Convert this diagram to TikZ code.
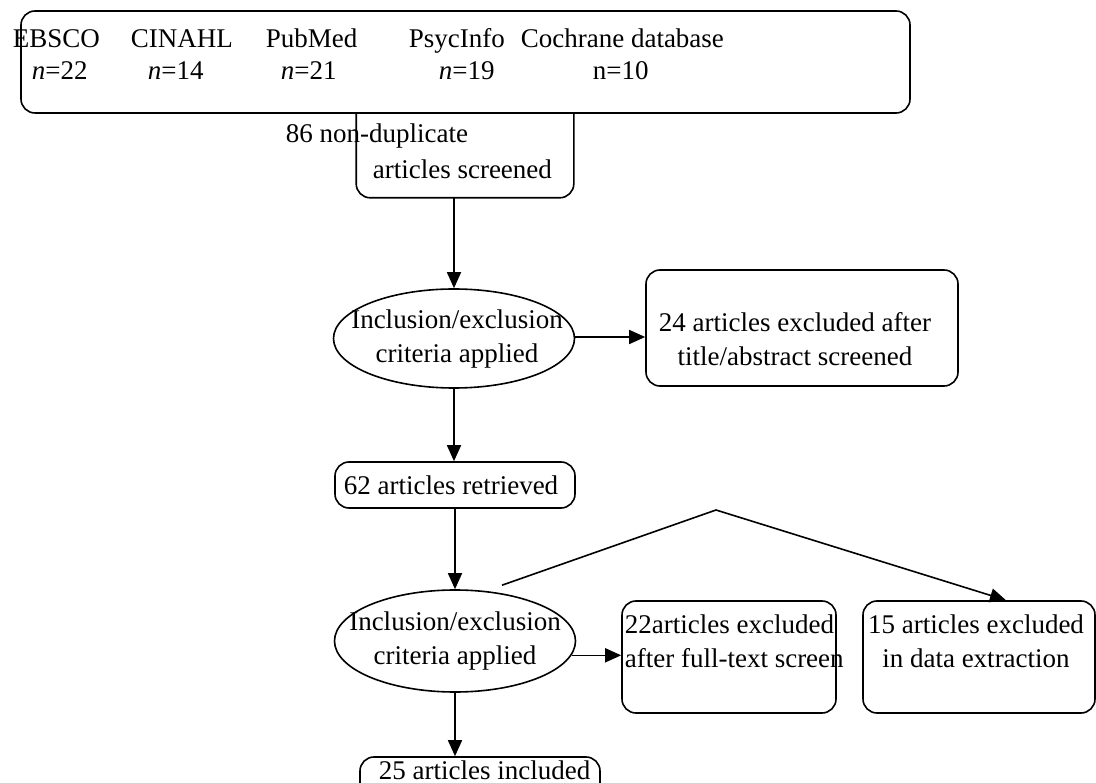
\documentclass[tikz,border=0pt]{standalone}
\usepackage{fontspec}
\setmainfont{Liberation Serif}
\usetikzlibrary{arrows.meta,shapes.geometric,calc}
\begin{document}
\begin{tikzpicture}[x=1pt,y=-1pt,line width=1.6pt,
  rbox/.style={draw,rounded corners=14pt,inner sep=0pt},
  ell/.style={draw,ellipse,inner sep=0pt,minimum width=241pt},
  txt/.style={font=\fontsize{27}{34}\selectfont,inner sep=0pt,align=center},
  lt/.style={txt,anchor=base west},
  arr/.style={-{Triangle[length=16pt,width=14pt]}}]
\useasboundingbox (0,0) rectangle (1096,783);
% top box
\node[rbox,minimum width=889pt,minimum height=102pt] (db) at (465.5,62) {};
\node[lt] (t1) at (12,48) {EBSCO};
\node[lt] (n1) at (31,80) {\textit{n}=22};
\node[lt] (t2) at (130,48) {CINAHL};
\node[lt] (n2) at (147,80) {\textit{n}=14};
\node[lt] (t3) at (265,48) {PubMed};
\node[lt] (n3) at (280,80) {\textit{n}=21};
\node[lt] (t4) at (408,48) {PsycInfo};
\node[lt] (n4) at (438,80) {\textit{n}=19};
\node[lt] (t5) at (520,48) {Cochrane database};
\node[lt] (n5) at (592,80) {n=10};
% box 2
\node[minimum width=216pt,minimum height=84pt,inner sep=0pt] (scr) at (465,155) {};
\draw[rounded corners=14pt] (scr.north west) -- (scr.south west) -- (scr.south east) -- (scr.north east);
\node[lt] (s1) at (285,143) {86 non-duplicate};
\node[lt] (s2) at (372,179) {articles screened};
% ellipse 1
\node[ell,minimum height=99pt] (e1) at (454,338.5) {};
\node[txt] (e1t) at (457,339) {Inclusion/exclusion\\criteria applied};
\node[rbox,minimum width=312pt,minimum height=116pt] (x1) at (802,328) {};
\node[txt] (x1t) at (795,339) {24 articles excluded after\\title/abstract screened};
% retrieved
\node[rbox,minimum width=240pt,minimum height=46pt] (ret) at (455,485) {};
\node[txt] (rett) at (451,485) {62 articles retrieved};
% ellipse 2
\node[ell,minimum height=102pt] (e2) at (455,641) {};
\node[txt] (e2t) at (455,641) {Inclusion/exclusion\\criteria applied};
\node[rbox,minimum width=214pt,minimum height=112pt] (x2) at (729,657) {};
\node[txt,align=left,anchor=west] (x2t) at (624,641) {22articles excluded\\after full-text screen};
\node[rbox,minimum width=232pt,minimum height=112pt] (x3) at (979,657) {};
\node[txt] (x3t) at (976,641) {15 articles excluded\\in data extraction};
% included
\node[rbox,minimum width=240pt,minimum height=60pt] (inc) at (480,787) {};
\node[lt] (inct) at (378,779) {25 articles included};
% connectors
\draw[arr] (e1.north |- scr.south) -- (e1.north);
\draw[arr] (e1.east |- 0,337) -- (x1.west |- 0,337);
\draw[arr] (e1.south) -- (e1.south |- ret.north);
\draw[arr] (ret.south -| e2.north) -- (e2.north);
\draw[arr] (e2.-7) -- (e2.-7 -| x2.west);
\draw[arr] (e2.south) -- (e2.south |- inc.north);
\coordinate (vs) at ($(e2.north)+(47,-4)$);
\coordinate (vt) at (716,510);
\draw[arr] (vs) -- (vt) -- ($(x3.north)+(27,0)$);
\end{tikzpicture}
\end{document}
